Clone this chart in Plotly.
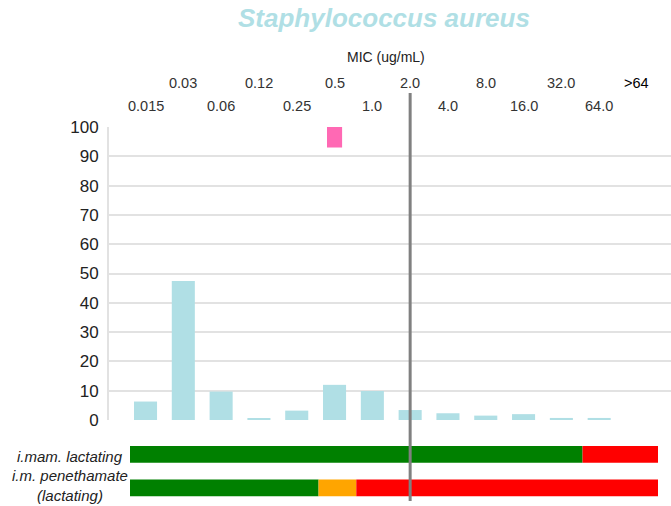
import plotly.graph_objects as go

W, H = 671, 506
OFF = 0  # body margin removed via post_script

categories = ["0.015", "0.03", "0.06", "0.12", "0.25", "0.5", "1.0", "2.0",
              "4.0", "8.0", "16.0", "32.0", "64.0", ">64"]
percent = [6.3, 47.4, 9.7, 0.6, 3.2, 12.0, 9.9, 3.4, 2.3, 1.5, 2.0, 0.7, 0.7, 0.0]

mic90_category = "0.5"
mic90_low = 93
mic90_high = 103

breakpoint_category = "2.0"

row_labels = ["i.mam. lactating", "i.m. penethamate<br>(lactating)"]
row1_widths = [12, 2]
row1_colors = ["#008000", "#ff0000"]
row2_widths = [5, 1, 8]
row2_colors = ["#008000", "#ffa500", "#ff0000"]

FONT = "Liberation Sans, Arial, sans-serif"

def px_x(p):
    return (p - OFF) / W

def px_y(p):
    return 1 - (p - OFF) / H

cat_index = {c: i for i, c in enumerate(categories)}

fig = go.Figure()

fig.add_trace(go.Bar(
    x=list(range(len(categories))), y=percent,
    marker=dict(color="#b0dfe5", line=dict(width=0)),
    width=0.61, xaxis="x", yaxis="y", showlegend=False, cliponaxis=False,
))

fig.add_trace(go.Bar(
    x=[cat_index[mic90_category]], y=[mic90_high - mic90_low], base=[mic90_low],
    marker=dict(color="#ff69b4", line=dict(width=0)), width=0.4,
    xaxis="x", yaxis="y", showlegend=False, cliponaxis=False,
))

def add_row(widths, colors, ypos):
    start = 0
    for w, c in zip(widths, colors):
        fig.add_trace(go.Bar(
            x=[w], y=[ypos], base=[start], orientation="h", width=0.5,
            marker=dict(color=c, line=dict(width=0)),
            xaxis="x2", yaxis="y2", showlegend=False,
        ))
        start += w

add_row(row1_widths, row1_colors, 1)
add_row(row2_widths, row2_colors, 0)

annotations = []
for i, c in enumerate(categories):
    upper = (i % 2 == 1)
    annotations.append(dict(
        x=i, xref="x", y=px_y(83 if upper else 106), yref="paper",
        text=c, showarrow=False, xanchor="center", yanchor="middle",
        font=dict(family=FONT, size=14.5, color="#000000" if c == ">64" else "#333333"),
    ))

annotations.append(dict(
    x=px_x(386), y=px_y(57), xref="paper", yref="paper", text="MIC (ug/mL)",
    showarrow=False, xanchor="center", yanchor="middle",
    font=dict(family=FONT, size=14, color="#222222"),
))
annotations.append(dict(
    x=px_x(384), y=px_y(18), xref="paper", yref="paper",
    text="<b><i>Staphylococcus aureus</i></b>",
    showarrow=False, xanchor="center", yanchor="middle",
    font=dict(family=FONT, size=26, color="#b0dfe5"),
))
annotations.append(dict(
    x=px_x(70), y=px_y(456), xref="paper", yref="paper", text="<i>" + row_labels[0] + "</i>",
    showarrow=False, xanchor="center", yanchor="middle",
    font=dict(family=FONT, size=15, color="#222222"),
))
annotations.append(dict(
    x=px_x(70), y=px_y(485), xref="paper", yref="paper", text="<i>" + row_labels[1] + "</i>",
    showarrow=False, xanchor="center", yanchor="middle",
    font=dict(family=FONT, size=15, color="#222222"),
))

bp = cat_index[breakpoint_category]
shapes = [dict(
    type="line", xref="x", yref="paper",
    x0=bp, x1=bp,
    y0=px_y(501), y1=px_y(93),
    line=dict(color="#808080", width=3), layer="above",
)]

fig.update_layout(
    template="none",
    width=W, height=H,
    autosize=False,
    margin=dict(l=0, r=0, t=0, b=0, pad=0),
    paper_bgcolor="white", plot_bgcolor="white",
    barmode="overlay",
    annotations=annotations, shapes=shapes,
    xaxis=dict(domain=[px_x(109), 1], range=[-0.966, 13.9 + OFF / 37.8], showticklabels=False,
               showgrid=False, zeroline=False, showline=False, ticks="", automargin=False),
    yaxis=dict(domain=[px_y(420), px_y(127)], range=[0, 100], dtick=10,
               showgrid=True, gridcolor="#e2e2e2", gridwidth=2,
               zeroline=False, showline=True, linecolor="#e2e2e2", linewidth=2,
               tickfont=dict(family=FONT, size=17, color="#222222"),
               ticks="", ticklabelstandoff=5, automargin=False),
    xaxis2=dict(domain=[px_x(130), px_x(658)], range=[0, 14], anchor="y2", automargin=False,
                showticklabels=False, showgrid=False, zeroline=False, showline=False),
    yaxis2=dict(domain=[px_y(504.5), px_y(437.5)], range=[-0.5, 1.5], anchor="x2", automargin=False,
                showticklabels=False, showgrid=False, zeroline=False, showline=False),
)

fig.write_html("out.html", config={"displayModeBar": False},
               post_script="document.body.style.margin='0';")
